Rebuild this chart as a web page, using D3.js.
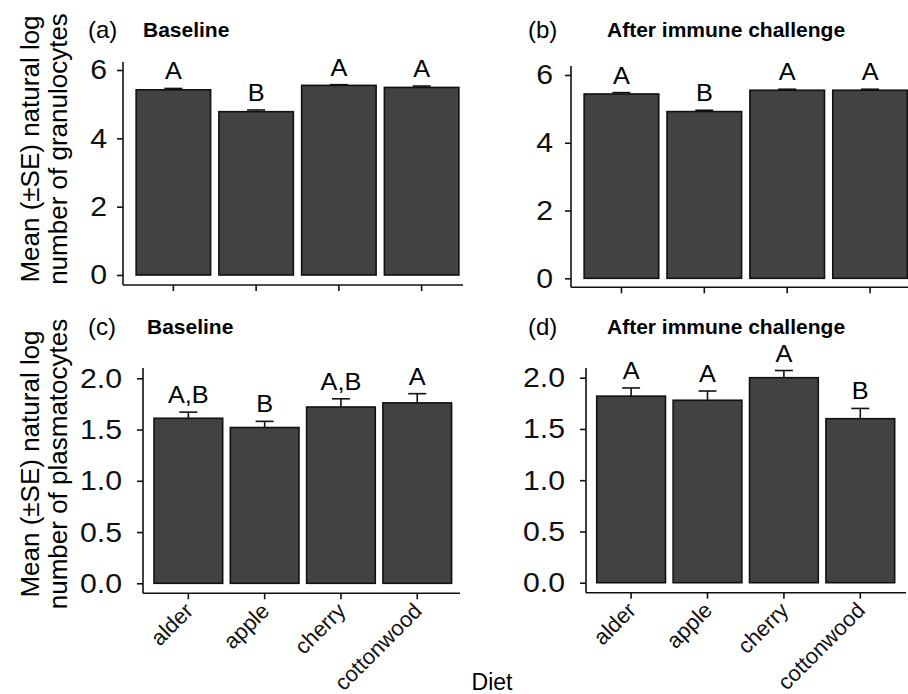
<!DOCTYPE html>
<html>
<head>
<meta charset="utf-8">
<script src="https://cdn.jsdelivr.net/npm/d3@7"></script>
<style>
  body { margin: 0; background: #fff; }
  svg { display: block; font-family: "Liberation Sans", Arial, sans-serif; }
</style>
</head>
<body>
<svg id="chart" width="908" height="694"></svg>
<script>
const diets = ["alder", "apple", "cherry", "cottonwood"];

const granBaseline = [5.42, 4.78, 5.55, 5.49];
const granBaselineSE = [0.04, 0.05, 0.02, 0.04];
const granBaselineLetters = ["A", "B", "A", "A"];

const granChallenge = [5.44, 4.92, 5.55, 5.55];
const granChallengeSE = [0.04, 0.04, 0.03, 0.03];
const granChallengeLetters = ["A", "B", "A", "A"];

const plasBaseline = [1.61, 1.52, 1.72, 1.76];
const plasBaselineSE = [0.06, 0.06, 0.08, 0.09];
const plasBaselineLetters = ["A,B", "B", "A,B", "A"];

const plasChallenge = [1.82, 1.78, 2.00, 1.60];
const plasChallengeSE = [0.08, 0.09, 0.07, 0.10];
const plasChallengeLetters = ["A", "A", "A", "B"];

const granTicks = [0, 2, 4, 6];
const plasTicks = [0, 0.5, 1.0, 1.5, 2.0];

const svg = d3.select("#chart");

// the scanned figure has slightly widened type
const tickStretch = 1.08;
const letterStretch = 1.1;

// layout of each panel in pixels
const panels = [
  {tag: "(a)", title: "Baseline", means: granBaseline, se: granBaselineSE, letters: granBaselineLetters,
   ticks: granTicks, fmt: d3.format("d"), domain: [0, 6], yRange: [275, 70], yTop: 62, pad: 10,
   xRange: [132, 463], axisX: 123, axisY: 285, axisEnd: 463, tagX: 88, titleX: 143, titleY: 37, xLabels: false},
  {tag: "(b)", title: "After immune challenge", means: granChallenge, se: granChallengeSE, letters: granChallengeLetters,
   ticks: granTicks, fmt: d3.format("d"), domain: [0, 6], yRange: [278.3, 75], yTop: 66, pad: 12,
   xRange: [580, 911.5], axisX: 571, axisY: 287.3, axisEnd: 908, tagX: 528, titleX: 607, titleY: 37, xLabels: false},
  {tag: "(c)", title: "Baseline", means: plasBaseline, se: plasBaselineSE, letters: plasBaselineLetters,
   ticks: plasTicks, fmt: d3.format(".1f"), domain: [0, 2], yRange: [583.3, 378.3], yTop: 368, pad: 15,
   xRange: [150.2, 455.4], axisX: 143, axisY: 593.3, axisEnd: 460, tagX: 88, titleX: 147, titleY: 334, xLabels: true},
  {tag: "(d)", title: "After immune challenge", means: plasChallenge, se: plasChallengeSE, letters: plasChallengeLetters,
   ticks: plasTicks, fmt: d3.format(".1f"), domain: [0, 2], yRange: [582.7, 377.7], yTop: 368, pad: 15,
   xRange: [592.9, 898.5], axisX: 586, axisY: 592.7, axisEnd: 906, tagX: 528, titleX: 607, titleY: 334, xLabels: true}
];

panels.forEach(p => {
  const g = svg.append("g");

  const x = d3.scaleBand()
      .domain(diets)
      .range(p.xRange)
      .paddingInner(0.1)
      .paddingOuter(0.05);

  const y = d3.scaleLinear()
      .domain(p.domain)
      .range(p.yRange);

  const rows = diets.map((d, i) => ({diet: d, mean: p.means[i], se: p.se[i], letter: p.letters[i]}));

  // bars
  g.selectAll("rect.bar")
    .data(rows)
    .enter()
    .append("rect")
      .attr("class", "bar")
      .attr("x", d => x(d.diet))
      .attr("y", d => y(d.mean))
      .attr("width", x.bandwidth())
      .attr("height", d => y(0) - y(d.mean))
      .attr("fill", "#424242")
      .attr("stroke", "#111")
      .attr("stroke-width", 1.6);

  // upper error bars
  const cx = d => x(d.diet) + x.bandwidth() / 2;
  g.selectAll("line.err")
    .data(rows)
    .enter()
    .append("line")
      .attr("x1", cx).attr("x2", cx)
      .attr("y1", d => y(d.mean))
      .attr("y2", d => y(d.mean + d.se))
      .attr("stroke", "#111")
      .attr("stroke-width", 1.6);

  g.selectAll("line.cap")
    .data(rows)
    .enter()
    .append("line")
      .attr("x1", d => cx(d) - 9).attr("x2", d => cx(d) + 9)
      .attr("y1", d => y(d.mean + d.se))
      .attr("y2", d => y(d.mean + d.se))
      .attr("stroke", "#111")
      .attr("stroke-width", 1.6);

  // significance letters
  g.selectAll("text.letter")
    .data(rows)
    .enter()
    .append("text")
      .attr("transform", d => `translate(${cx(d)},${y(d.mean + d.se) - 9}) scale(${letterStretch},1)`)
      .style("text-anchor", "middle")
      .style("font-size", "23px")
      .text(d => d.letter);

  // y axis
  const yAxis = d3.axisLeft(y)
      .tickValues(p.ticks)
      .tickFormat(p.fmt)
      .tickSize(6)
      .tickPadding(p.pad)
      .tickSizeOuter(0);

  const ya = g.append("g")
      .attr("transform", `translate(${p.axisX},0)`)
      .call(yAxis);
  ya.select(".domain").remove();
  ya.append("line")
      .attr("x1", 0).attr("x2", 0)
      .attr("y1", p.yTop).attr("y2", p.axisY)
      .attr("stroke", "#111").attr("stroke-width", 1.6);
  ya.selectAll(".tick line").attr("stroke", "#111").attr("stroke-width", 1.6);
  ya.selectAll(".tick text")
      .attr("fill", "#111")
      .attr("x", null)
      .attr("transform", `translate(${-6 - p.pad},0) scale(${tickStretch},1)`)
      .style("font-size", "28px")
      .style("font-family", "Liberation Sans, Arial, sans-serif");

  // x axis
  const xAxis = d3.axisBottom(x)
      .tickSize(6)
      .tickSizeOuter(0);

  const xa = g.append("g")
      .attr("transform", `translate(0,${p.axisY})`)
      .call(xAxis);
  xa.select(".domain").remove();
  xa.append("line")
      .attr("x1", p.axisX).attr("x2", p.axisEnd)
      .attr("y1", 0).attr("y2", 0)
      .attr("stroke", "#111").attr("stroke-width", 1.6);
  xa.selectAll(".tick line").attr("stroke", "#111").attr("stroke-width", 1.6);
  if (p.xLabels) {
    xa.selectAll(".tick text")
        .attr("fill", "#111")
        .attr("y", 0).attr("dy", 0)
        .attr("transform", "translate(6,19) rotate(-45)")
        .style("text-anchor", "end")
        .style("font-size", "22px")
        .style("font-family", "Liberation Sans, Arial, sans-serif");
  } else {
    xa.selectAll(".tick text").remove();
  }

  // panel tag and title
  g.append("text")
      .attr("x", p.tagX)
      .attr("y", p.titleY + 1)
      .style("font-size", "24px")
      .text(p.tag);

  g.append("text")
      .attr("x", p.titleX)
      .attr("y", p.titleY)
      .style("font-size", "21px")
      .style("font-weight", "bold")
      .text(p.title);
});

// shared y labels
const yLabels = [
  {lines: ["Mean (\u00B1SE) natural log", "number of granulocytes"], cy: 149},
  {lines: ["Mean (\u00B1SE) natural log", "number of plasmatocytes"], cy: 464}
];
yLabels.forEach(l => {
  l.lines.forEach((t, i) => {
    svg.append("text")
        .attr("transform", `translate(${39 + i * 28},${l.cy}) rotate(-90)`)
        .style("text-anchor", "middle")
        .style("font-size", "26px")
        .text(t);
  });
});

svg.append("text")
    .attr("x", 492)
    .attr("y", 690)
    .style("text-anchor", "middle")
    .style("font-size", "23px")
    .text("Diet");
</script>
</body>
</html>
